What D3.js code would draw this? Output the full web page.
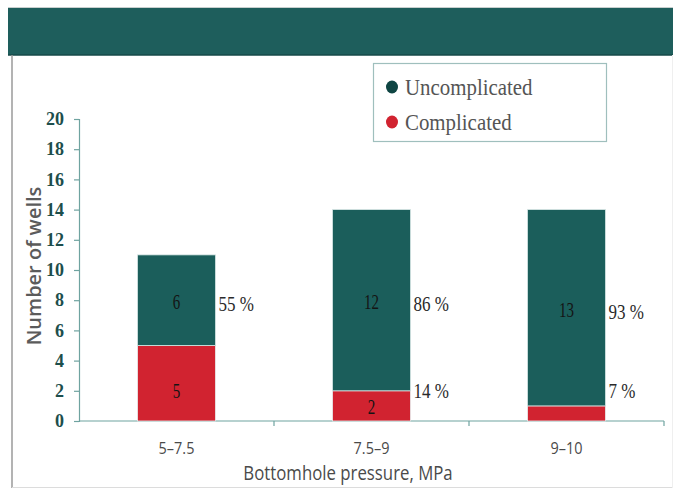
<!DOCTYPE html>
<html>
<head>
<meta charset="utf-8">
<script src="https://cdn.jsdelivr.net/npm/d3@7"></script>
<style>
  html, body { margin: 0; padding: 0; background: #fff; }
  svg { display: block; }
</style>
</head>
<body>
<svg id="chart" width="673" height="489"></svg>
<script>
// Well counts by bottomhole pressure range
const categories = ["5–7.5", "7.5–9", "9–10"];
const complicated = [5, 2, 1];
const uncomplicated = [6, 12, 13];
const uncomplicatedPct = ["55 %", "86 %", "93 %"];
const complicatedPct = ["", "14 %", "7 %"];
const yTicks = [0, 2, 4, 6, 8, 10, 12, 14, 16, 18, 20];
const seriesNames = ["Uncomplicated", "Complicated"];

const TEAL = "#1b5e5b";
const RED = "#d12330";
const serif = "'Liberation Serif', 'Times New Roman', serif";
const sans = "'Open Sans', sans-serif";

const svg = d3.select("#chart");
const W = 673, H = 489;

// narrow text: placed with a transform so it can be squeezed horizontally
function squeezed(sel, sx) {
  return sel.attr("transform", function (d) {
    const px = +this.getAttribute("data-x"), py = +this.getAttribute("data-y");
    return `translate(${px},${py}) scale(${sx},1)`;
  });
}

// frame: header band, left and bottom rules
svg.append("line").attr("x1", 8).attr("x2", W).attr("y1", 7.5).attr("y2", 7.5)
  .attr("stroke", "#c8cfce").attr("stroke-width", 1);
svg.append("rect").attr("x", 8).attr("y", 8).attr("width", W - 8).attr("height", 47)
  .attr("fill", "#1e5e5c");
svg.append("line").attr("x1", 8).attr("x2", W).attr("y1", 55).attr("y2", 55)
  .attr("stroke", "#164a48").attr("stroke-width", 1.5);
svg.append("line").attr("x1", 12).attr("x2", 12).attr("y1", 55).attr("y2", 488)
  .attr("stroke", "#9a9a9a").attr("stroke-width", 1.5);
svg.append("line").attr("x1", 12).attr("x2", W).attr("y1", 487.5).attr("y2", 487.5)
  .attr("stroke", "#dcdcdc").attr("stroke-width", 1);
svg.append("line").attr("x1", 672.5).attr("x2", 672.5).attr("y1", 55).attr("y2", 488)
  .attr("stroke", "#efefef").attr("stroke-width", 1);

const plot = { left: 79, right: 664, top: 119, bottom: 421 };

const x = d3.scaleBand().domain(categories)
  .range([plot.left, plot.right]).paddingInner(0.6).paddingOuter(0.3);
const y = d3.scaleLinear().domain([0, 20]).range([plot.bottom, plot.top]);

const axisColor = "#6fa3a0";

// y axis
const yAxis = svg.append("g").attr("transform", `translate(${plot.left},0)`)
  .call(d3.axisLeft(y).tickValues(yTicks).tickSize(5).tickPadding(10).tickFormat(d3.format("d")));
yAxis.select(".domain").attr("stroke", axisColor).attr("stroke-width", 1.2);
yAxis.selectAll(".tick line").attr("stroke", axisColor).attr("stroke-width", 1.2);
yAxis.selectAll(".tick text")
  .attr("font-family", serif).attr("font-weight", "bold")
  .attr("font-size", 18).attr("fill", "#1d4e4c");

// x axis: boundary ticks between categories
const step = x.step();
const bounds = categories.map(c => x(c) + x.bandwidth() + x.paddingInner() * step / 2);
svg.append("line").attr("x1", plot.left).attr("x2", plot.right)
  .attr("y1", plot.bottom).attr("y2", plot.bottom)
  .attr("stroke", axisColor).attr("stroke-width", 1.2);
svg.selectAll(".xtick").data(bounds).join("line").attr("class", "xtick")
  .attr("x1", d => Math.min(d, plot.right)).attr("x2", d => Math.min(d, plot.right))
  .attr("y1", plot.bottom).attr("y2", plot.bottom + 5)
  .attr("stroke", axisColor).attr("stroke-width", 1.2);

svg.selectAll(".xlabel").data(categories).join("text").attr("class", "xlabel")
  .attr("data-x", d => x(d) + x.bandwidth() / 2).attr("data-y", 448)
  .attr("dy", "0.35em").attr("text-anchor", "middle")
  .attr("font-family", sans).attr("font-size", 17)
  .attr("fill", "#4a4a4a").text(d => d)
  .call(squeezed, 0.85);

// axis titles
svg.append("text").attr("data-x", 348).attr("data-y", 473).attr("dy", "0.35em")
  .attr("text-anchor", "middle").attr("font-family", sans)
  .attr("font-size", 20).attr("fill", "#4a4a4a")
  .text("Bottomhole pressure, MPa")
  .call(squeezed, 0.84);
svg.append("text").attr("transform", "translate(34,266) rotate(-90)")
  .attr("dy", "0.35em").attr("text-anchor", "middle")
  .attr("font-family", sans).attr("font-weight", 600)
  .attr("font-size", 20).attr("fill", "#5b5b5b").text("Number of wells");

// stacked bars
const rows = categories.map((c, i) => ({
  cat: c, comp: complicated[i], unc: uncomplicated[i],
  pu: uncomplicatedPct[i], pc: complicatedPct[i]
}));

const bars = svg.append("g");
bars.selectAll(".comp").data(rows).join("rect").attr("class", "comp")
  .attr("x", d => x(d.cat)).attr("width", x.bandwidth())
  .attr("y", d => y(d.comp)).attr("height", d => y(0) - y(d.comp))
  .attr("fill", RED).attr("stroke", "#e8eeee").attr("stroke-width", 0.8);
bars.selectAll(".unc").data(rows).join("rect").attr("class", "unc")
  .attr("x", d => x(d.cat)).attr("width", x.bandwidth())
  .attr("y", d => y(d.comp + d.unc)).attr("height", d => y(d.comp) - y(d.comp + d.unc))
  .attr("fill", TEAL).attr("stroke", "#d8e6e5").attr("stroke-width", 0.8);

// values inside segments
bars.selectAll(".vu").data(rows).join("text").attr("class", "vu")
  .attr("data-x", d => x(d.cat) + x.bandwidth() / 2)
  .attr("data-y", d => y(d.comp + d.unc / 2) + 2).attr("dy", "0.35em")
  .attr("text-anchor", "middle").attr("font-family", serif).attr("font-size", 20)
  .attr("fill", "#141414").text(d => d.unc)
  .call(squeezed, 0.75);
bars.selectAll(".vc").data(rows.filter(d => d.comp > 1)).join("text").attr("class", "vc")
  .attr("data-x", d => x(d.cat) + x.bandwidth() / 2)
  .attr("data-y", d => Math.min(y(d.comp / 2) + 8, y(0) - 14))
  .attr("dy", "0.35em")
  .attr("text-anchor", "middle").attr("font-family", serif).attr("font-size", 20)
  .attr("fill", "#141414").text(d => d.comp)
  .call(squeezed, 0.75);

// shares beside each bar
bars.selectAll(".pu").data(rows).join("text").attr("class", "pu")
  .attr("data-x", d => x(d.cat) + x.bandwidth() + 3)
  .attr("data-y", d => y(d.comp + d.unc / 2) + 4).attr("dy", "0.35em")
  .attr("font-family", serif).attr("font-size", 20)
  .attr("fill", "#2a2a2a").text(d => d.pu)
  .call(squeezed, 0.85);
bars.selectAll(".pc").data(rows.filter(d => d.pc)).join("text").attr("class", "pc")
  .attr("data-x", d => x(d.cat) + x.bandwidth() + 3)
  .attr("data-y", y(2)).attr("dy", "0.35em")
  .attr("font-family", serif).attr("font-size", 20)
  .attr("fill", "#2a2a2a").text(d => d.pc)
  .call(squeezed, 0.85);

// legend
const lg = svg.append("g").attr("transform", "translate(373,63)");
lg.append("rect").attr("x", 0.5).attr("y", 0.5).attr("width", 233).attr("height", 78)
  .attr("fill", "#fff").attr("stroke", "#9fbfbd").attr("stroke-width", 1.2);
const legColors = ["#0f4543", RED];
seriesNames.forEach((name, i) => {
  const gy = 24 + i * 35;
  lg.append("ellipse").attr("cx", 19).attr("cy", gy).attr("rx", 6).attr("ry", 6.5)
    .attr("fill", legColors[i]);
  lg.append("text").attr("data-x", 32).attr("data-y", gy).attr("dy", "0.35em")
    .attr("font-family", serif).attr("font-size", 24)
    .attr("fill", "#555").text(name)
    .call(squeezed, 0.87);
});
</script>
</body>
</html>
